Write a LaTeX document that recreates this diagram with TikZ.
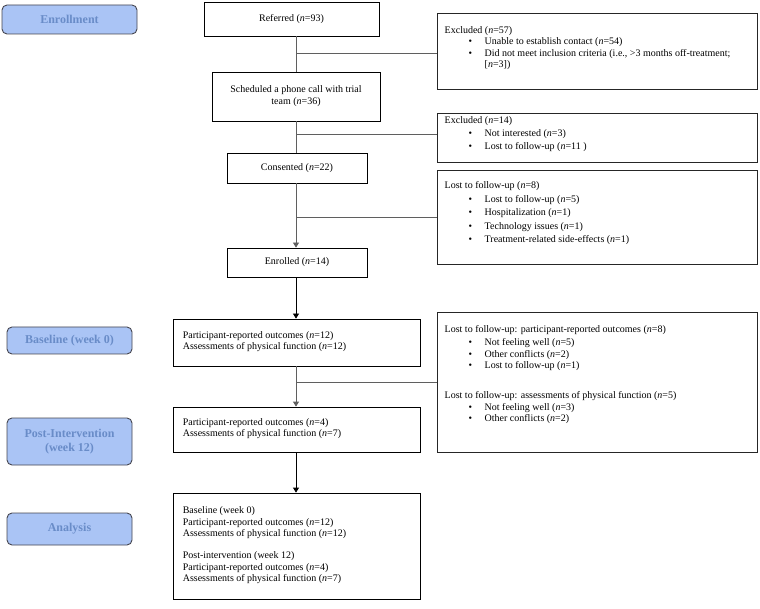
\documentclass[tikz,border=0pt]{standalone}
\usepackage{fontspec}
\setmainfont{Liberation Serif}
\usetikzlibrary{arrows.meta,positioning}
\definecolor{lblfill}{RGB}{170,196,245}
\definecolor{lbltext}{RGB}{105,140,200}
\definecolor{lbldraw}{RGB}{70,70,80}
\definecolor{conn}{RGB}{95,95,95}
\newcommand\itm[1]{\hspace*{24pt}\makebox[16pt][l]{\textbullet}#1}
\newcommand\nn{\textit{n}}
\tikzset{
  stage/.style={draw=lbldraw, line width=0.9pt, fill=lblfill, rounded corners=5pt, text=lbltext,
    font=\fontsize{12}{14.5}\selectfont\bfseries, align=center, inner sep=0pt},
  flowbox/.style={draw=black, line width=0.8pt, inner sep=0pt, align=center,
    font=\fontsize{10}{12}\selectfont},
  sidebox/.style={draw=black!85, line width=1pt, inner sep=0pt},
  txt/.style={inner sep=0pt, align=left, anchor=north west, font=\fontsize{10}{11.3}\selectfont},
  link/.style={draw=conn, line width=0.8pt},
  arr/.style={draw=black, line width=0.8pt, -{Triangle[width=6pt,length=5pt]}},
}
\begin{document}
\begin{tikzpicture}[x=1pt,y=-1pt]
\useasboundingbox (0,0) rectangle (760,609);
% stage labels
\node[stage, minimum width=135pt, minimum height=29pt] (sEnr) at (69.5,19.5) {Enrollment};
\node[stage, minimum width=125pt, minimum height=27pt] (sBase) at (69.5,340.5) {Baseline (week 0)};
\node[stage, minimum width=125pt, minimum height=47pt] (sPost) at (69.5,441.5) {Post-Intervention\\(week 12)};
\node[stage, minimum width=125pt, minimum height=32pt] (sAnal) at (69.5,529) {Analysis};
% central flow
\node[flowbox, minimum width=175pt, minimum height=34pt] (ref) at (291.5,19) {Referred (\nn=93)};
\node[flowbox, minimum width=168pt, minimum height=49pt] (sched) at (296,96.5) {Scheduled a phone call with trial\\team (\nn=36)};
\node[flowbox, minimum width=140pt, minimum height=30pt] (cons) at (297,168) {Consented (\nn=22)};
\node[flowbox, minimum width=140pt, minimum height=29pt] (enrl) at (297,262.5) {Enrolled (\nn=14)};
\node[flowbox, minimum width=247pt, minimum height=47pt] (base) at (296.5,342.5) {};
\node[flowbox, minimum width=247pt, minimum height=45pt] (post) at (296.5,429.5) {};
\node[flowbox, minimum width=247pt, minimum height=106pt] (anal) at (296.5,546) {};
\node[txt, font=\fontsize{10}{11}\selectfont] (baset) at ([shift={(10pt,-13pt)}]base.north west) {Participant-reported outcomes (\nn=12)\\Assessments of physical function (\nn=12)};
\node[txt, font=\fontsize{10}{11}\selectfont] (postt) at ([shift={(10pt,-12pt)}]post.north west) {Participant-reported outcomes (\nn=4)\\Assessments of physical function (\nn=7)};
\node[txt, font=\fontsize{10}{11.6}\selectfont] (analt) at ([shift={(10pt,-14pt)}]anal.north west) {Baseline (week 0)\\Participant-reported outcomes (\nn=12)\\Assessments of physical function (\nn=12)\\[10pt]Post-intervention (week 12)\\Participant-reported outcomes (\nn=4)\\Assessments of physical function (\nn=7)};
% side boxes
\node[sidebox, minimum width=320pt, minimum height=76pt] (ex1) at (597,52) {};
\node[sidebox, minimum width=320pt, minimum height=49pt] (ex2) at (597,138.5) {};
\node[sidebox, minimum width=320pt, minimum height=94pt] (lost) at (597,218) {};
\node[sidebox, minimum width=320pt, minimum height=139pt] (lostb) at (597,382.5) {};
\node[txt, font=\fontsize{10}{11.2}\selectfont] (ex1t) at ([shift={(8pt,-13pt)}]ex1.north west) {Excluded (\nn=57)\\\itm{Unable to establish contact (\nn=54)}\\\itm{Did not meet inclusion criteria (i.e., >3 months off-treatment;}\\\hspace*{40pt}[\nn=3])};
\node[txt, font=\fontsize{10}{13}\selectfont] (ex2t) at ([shift={(8pt,-3pt)}]ex2.north west) {Excluded (\nn=14)\\\itm{Not interested (\nn=3)}\\\itm{Lost to follow-up (\nn=11 )}};
\node[txt, font=\fontsize{10}{13.5}\selectfont] (lostt) at ([shift={(8pt,-11pt)}]lost.north west) {Lost to follow-up (\nn=8)\\\itm{Lost to follow-up (\nn=5)}\\\itm{Hospitalization (\nn=1)}\\\itm{Technology issues (\nn=1)}\\\itm{Treatment-related side-effects (\nn=1)}};
\node[txt, font=\fontsize{10}{11.2}\selectfont] (lostbt) at ([shift={(8pt,-13pt)}]lostb.north west) {Lost to follow-up: participant-reported outcomes (\nn=8)\\[2pt]\itm{Not feeling well (\nn=5)}\\\itm{Other conflicts (\nn=2)}\\\itm{Lost to follow-up (\nn=1)}\\[19pt]Lost to follow-up: assessments of physical function (\nn=5)\\[1pt]\itm{Not feeling well (\nn=3)}\\\itm{Other conflicts (\nn=2)}};
% spine coordinates
\coordinate (spine) at (296,0);
\coordinate (j1) at (296,53);
\coordinate (j2) at (296,134);
\coordinate (j3) at (296,217);
\coordinate (j4) at (296,382);
% connectors
\draw[link] (ref.south -| spine) -- (sched.north -| spine);
\draw[link] (j1) -- (ex1.west |- j1);
\draw[link] (sched.south -| spine) -- (cons.north -| spine);
\draw[link] (j2) -- (ex2.west |- j2);
\draw[link] (j3) -- (lost.west |- j3);
\draw[arr, draw=conn] (cons.south -| spine) -- (enrl.north -| spine);
\draw[arr] (enrl.south -| spine) -- (base.north -| spine);
\draw[link] (j4) -- (lostb.west |- j4);
\draw[arr, draw=conn] (base.south -| spine) -- (post.north -| spine);
\draw[arr] (post.south -| spine) -- (anal.north -| spine);
\end{tikzpicture}
\end{document}
